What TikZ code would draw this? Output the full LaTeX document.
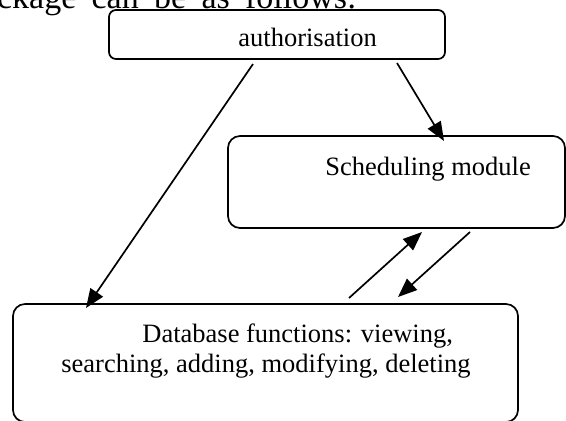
\documentclass[tikz,border=0pt]{standalone}
\usepackage{fontspec}
\setmainfont{Liberation Serif}
\usetikzlibrary{arrows.meta}
\begin{document}
\begin{tikzpicture}[x=0.5pt,y=-0.5pt,
  box/.style={draw, line width=0.85pt, inner sep=0pt, outer sep=0pt, anchor=north west},
  lbl/.style={font=\fontsize{13.25}{15}\selectfont, inner sep=0pt, anchor=base west},
  arr/.style={line width=0.85pt, -{Triangle[length=9.5pt,width=7.5pt]}},
  ln/.style={line width=0.85pt}]
\useasboundingbox (0,0) rectangle (566,420);
\clip (0,0) rectangle (566,420);
% boxes
\node[box, rounded corners=3.5pt, minimum width=168pt, minimum height=24.5pt] (auth) at (109,10) {};
\node[box, rounded corners=6pt, minimum width=168.5pt, minimum height=46pt] (sched) at (228,136) {};
\node[box, rounded corners=6pt, minimum width=252.5pt, minimum height=59pt] (db) at (13,304) {};
% texts
\node[font=\fontsize{17}{20}\selectfont, inner sep=0pt, anchor=base east] (head) at (357,8) {\spaceskip=0.45em package can be as follows:};
\node[lbl] (authT) at (238,46) {authorisation};
\node[lbl] (schedT) at (325,175) {Scheduling module};
\node[lbl] (dbT1) at (142,342) {Database functions: viewing,};
\node[lbl] (dbT2) at (61,372) {searching, adding, modifying, deleting};
% connector end points
\coordinate (authL) at (253,64);
\coordinate (dbIn) at (86,308);
\coordinate (authR) at (397,63);
\coordinate (schedIn) at (444,141);
\coordinate (dbOut) at (349,298);
\coordinate (schedIn2) at (422,232);
\coordinate (schedOut) at (470,232);
\coordinate (dbIn2) at (398,297);
% connectors
\draw[arr] (authL) -- (dbIn);
\draw[arr] (authR) -- (schedIn);
\draw[arr] (dbOut) -- (schedIn2);
\draw[arr] (schedOut) -- (dbIn2);
\end{tikzpicture}
\end{document}
